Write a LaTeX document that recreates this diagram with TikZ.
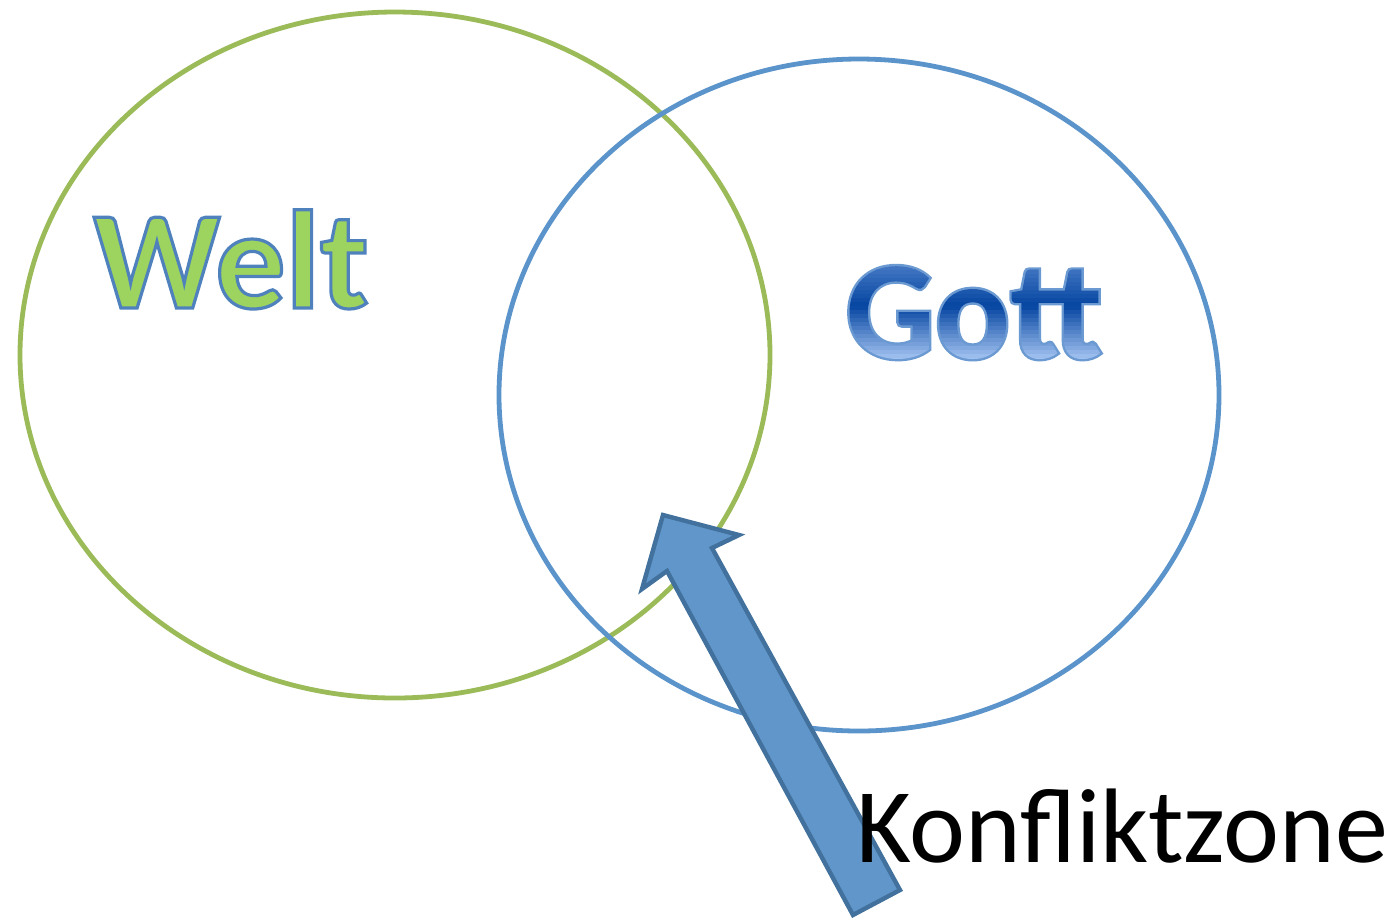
\documentclass[tikz,border=0pt]{standalone}
\usepackage{fontspec}
\setmainfont{Carlito}
\definecolor{weltgreen}{HTML}{9BBB59}
\definecolor{weltfill}{HTML}{9DD35F}
\definecolor{gottblue}{HTML}{5B93CB}
\definecolor{gottfill}{HTML}{1F5FAE}
\definecolor{arrowfill}{HTML}{6096CA}
\definecolor{arrowline}{HTML}{41719C}
% text with fill and outline (xdvipdfmx: rendering mode 2)
\newcommand{\outlined}[2]{\special{pdf:literal direct #1 1.6 w 2 Tr}#2\special{pdf:literal direct 0 Tr}}
% strips for the shaded word, light at the foot, dark in the middle
\def\gottstrips{}
\foreach \i in {0,...,29}{%
    \pgfmathsetmacro\ya{-4+2*\i+1}%
    \pgfmathsetmacro\fa{max(0,min(1,\ya/26))}%
    \pgfmathsetmacro\fb{max(0,min(1,(\ya-26)/22))}%
    \pgfmathsetmacro\colR{0.63-0.61*\fa+0.27*\fb}%
    \pgfmathsetmacro\colG{0.76-0.49*\fa+0.22*\fb}%
    \pgfmathsetmacro\colB{0.94-0.31*\fa+0.15*\fb}%
    \pgfmathsetmacro\yb{-4+2*\i}%
    \xdef\gottstrips{\gottstrips\space\colR\space\colG\space\colB\space rg -300 \yb\space 300 2.1 re f}%
}
\newcommand{\shaded}[1]{\special{pdf:literal direct q 0.42 0.60 0.82 RG 2.4 w 6 Tr}#1\special{pdf:literal \gottstrips}\special{pdf:literal direct Q}}
\begin{document}
\begin{tikzpicture}[x=0.5pt,y=-0.5pt,
    circ/.style={line width=2.4pt},
    word/.style={anchor=base,inner sep=0pt,font=\fontsize{70}{80}\selectfont\bfseries}]
    \useasboundingbox (0,0) rectangle (1399,918);

    \draw[circ,weltgreen] (395,355) ellipse [x radius=375,y radius=343];
    \draw[circ,gottblue] (859,395) ellipse [x radius=360,y radius=336];

    \node[word,text=weltfill] (welt) at (231,308) {\outlined{0.31 0.51 0.74 RG}{Welt}};
    \node[word,text=gottfill] (gott) at (974,358) {\shaded{Gott}};

    \coordinate (tip) at (663,515);
    \draw[line width=2.2pt,arrowline,fill=arrowfill,line join=miter]
        (tip) -- (739,535) -- (712,548) -- (900,890) -- (853,915)
        -- (667,571) -- (642,589) -- cycle;

    \node[anchor=base,inner sep=0pt,font=\fontsize{53}{60}\selectfont] (zone) at (1122,862) {Konfliktzone};
\end{tikzpicture}
\end{document}
